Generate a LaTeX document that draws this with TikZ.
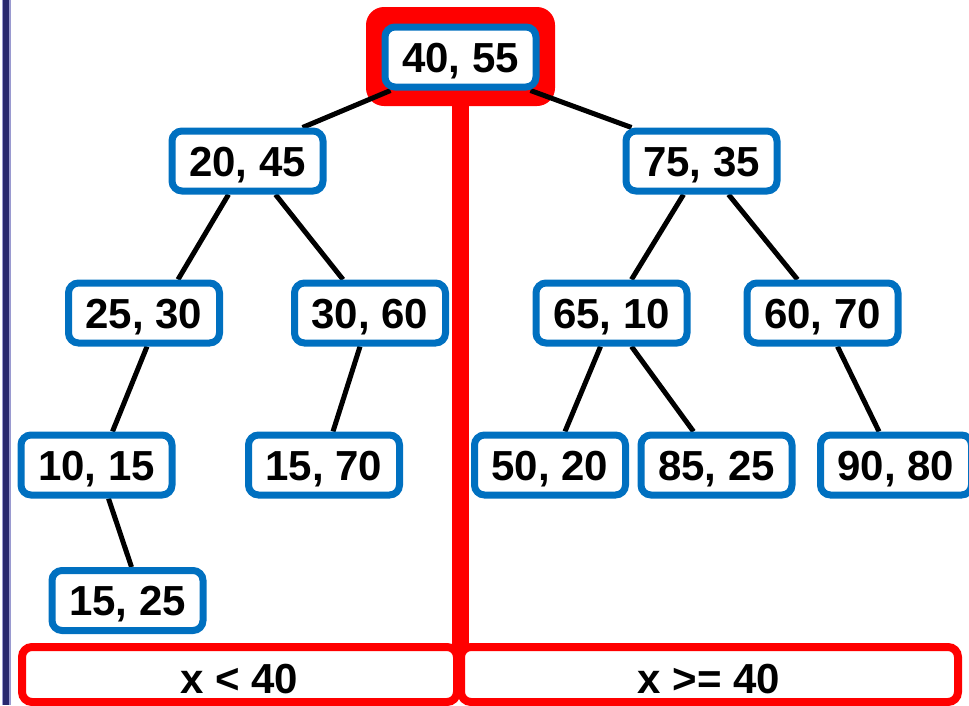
\documentclass[tikz,border=0pt]{standalone}
\usepackage{fontspec}
\setmainfont{Liberation Sans}
\usetikzlibrary{calc}
\definecolor{nodeblue}{HTML}{0070C0}
\definecolor{navy}{HTML}{28286E}
\definecolor{navyedge}{HTML}{9A9AD0}
\pgfdeclarelayer{back}
\pgfdeclarelayer{edges}
\pgfsetlayers{back,edges,main}
\begin{document}
\begin{tikzpicture}[x=1pt,y=-1pt,
  kd/.style={draw=nodeblue, line width=7pt, fill=white, rounded corners=10pt,
    minimum width=151pt, minimum height=60pt, inner sep=0pt,
    font=\fontsize{42}{48}\selectfont\bfseries, text height=30pt, text depth=0pt},
  lbl/.style={inner sep=0pt, font=\fontsize{42}{48}\selectfont\bfseries, text height=30pt, text depth=0pt},
  edge/.style={line width=5pt, black},
  split/.style={draw=red, line width=8pt, rounded corners=10pt}]
\useasboundingbox (0,0) rectangle (969,705);
\clip (0,0) rectangle (969,705);

% nodes
\node[kd] (root) at (460.5,57) {40, 55};
\node[kd] (n2045) at (247.5,161) {20, 45};
\node[kd] (n7535) at (701.5,161) {75, 35};
\node[kd] (n2530) at (144,313) {25, 30};
\node[kd] (n3060) at (370,313) {30, 60};
\node[kd] (n6510) at (611.5,313) {65, 10};
\node[kd] (n6070) at (822.5,313) {60, 70};
\node[kd] (n1015) at (96.5,465) {10, 15};
\node[kd] (n1570) at (324,465) {15, 70};
\node[kd] (n5020) at (550,465) {50, 20};
\node[kd] (n8525) at (716.5,465) {85, 25};
\node[kd] (n9080) at (896,465) {90, 80};
\node[kd] (n1525) at (127.5,600.5) {15, 25};

\node[lbl] (lt) at (239,678) {x < 40};
\node[lbl] (ge) at (709,678) {x >= 40};

\begin{pgfonlayer}{back}
  \fill[navyedge] (1.5,0) rectangle (10.5,705);
  \fill[navy] (3,0) rectangle (9.2,705);
  \fill[red, rounded corners=18pt] (366,7) rectangle (555,106);
  \fill[red] (452,100) rectangle (469,651);
  \draw[split] (22,647) rectangle (457,702);
  \draw[split] (461,647) rectangle (958,702);
\end{pgfonlayer}

\begin{pgfonlayer}{edges}
  \draw[edge] ([xshift=-70pt]root.south) -- ([xshift=55pt]n2045.north);
  \draw[edge] ([xshift=70pt]root.south) -- ([xshift=-70pt]n7535.north);
  \draw[edge] ([xshift=-19pt]n2045.south) -- ([xshift=34pt]n2530.north);
  \draw[edge] ([xshift=28pt]n2045.south) -- ([xshift=-27pt]n3060.north);
  \draw[edge] ([xshift=-18pt]n7535.south) -- ([xshift=20pt]n6510.north);
  \draw[edge] ([xshift=27pt]n7535.south) -- ([xshift=-25pt]n6070.north);
  \draw[edge] ([xshift=3pt]n2530.south) -- ([xshift=16pt]n1015.north);
  \draw[edge] ([xshift=-10pt]n3060.south) -- ([xshift=9pt]n1570.north);
  \draw[edge] ([xshift=-11pt]n6510.south) -- ([xshift=15pt]n5020.north);
  \draw[edge] ([xshift=20pt]n6510.south) -- ([xshift=-23pt]n8525.north);
  \draw[edge] ([xshift=15pt]n6070.south) -- ([xshift=-17pt]n9080.north);
  \draw[edge] ([xshift=12pt]n1015.south) -- ([xshift=4pt]n1525.north);
\end{pgfonlayer}
\end{tikzpicture}
\end{document}
